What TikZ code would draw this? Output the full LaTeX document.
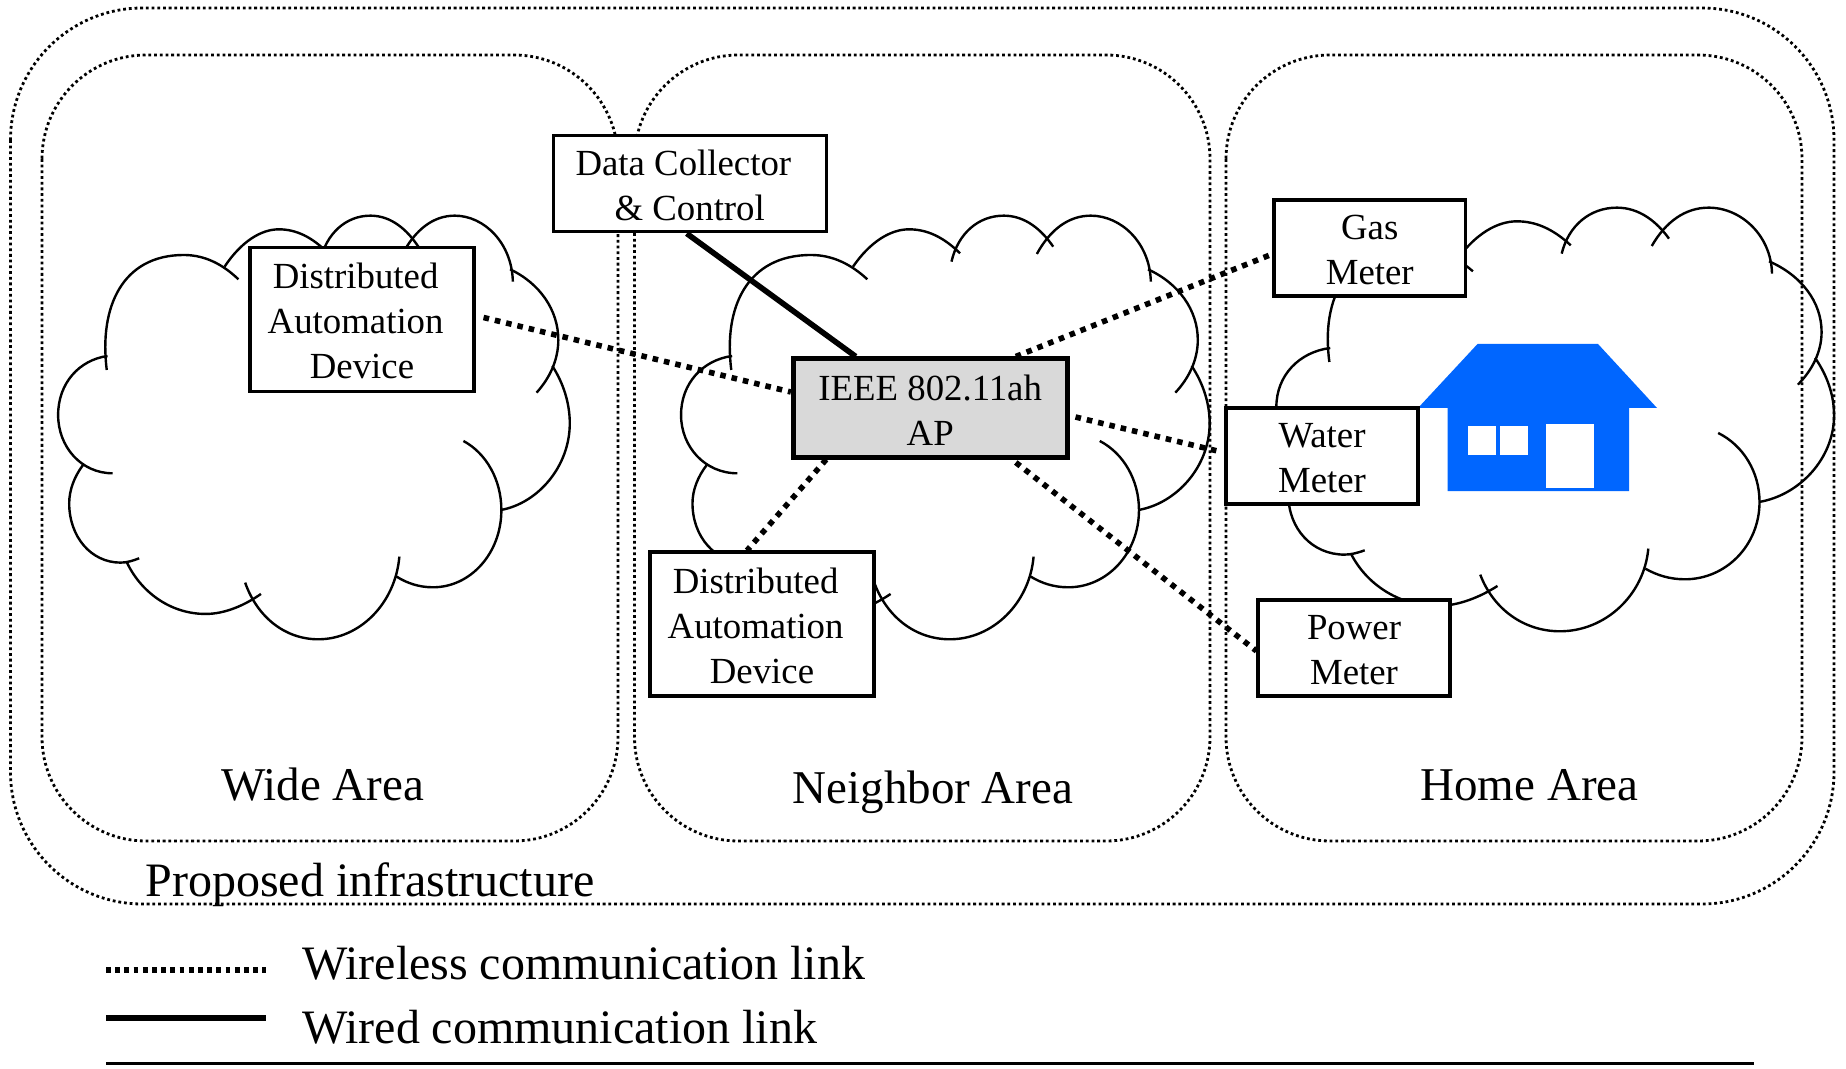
\documentclass[tikz,border=0pt]{standalone}
\usepackage{fontspec}
\setmainfont{Liberation Serif}
\pgfdeclarelayer{under}
\pgfsetlayers{under,main}
\definecolor{houseblue}{HTML}{0066FF}
\definecolor{apgray}{HTML}{D9D9D9}
\newcommand{\Lift}{\rule{0pt}{14.6pt}}
\newcommand{\Nudge}{\rule{6.4pt}{0pt}}
\tikzset{
  framedots/.style={line width=1.4pt,dash pattern=on 1.4pt off 1.45pt,rounded corners=52pt},
  lobe/.style={line width=1.2pt},
  devbox/.style={draw=black,fill=white,line width=1.55pt,inner sep=0pt,align=center,font=\fontsize{18.4}{22.5}\selectfont},
  apbox/.style={devbox,fill=apgray,line width=2.5pt},
  wireless/.style={line width=2.8pt,dash pattern=on 2.8pt off 3pt},
  wired/.style={line width=2.8pt},
  arealabel/.style={inner sep=0pt,font=\fontsize{23.5}{27}\selectfont},
  legendlabel/.style={inner sep=0pt,anchor=west,font=\fontsize{24}{27}\selectfont},
  housefill/.style={fill=houseblue,draw=none},
  holefill/.style={fill=white,draw=none},
}
\newcommand{\CloudLobes}{%
  \draw[lobe] (270,660) .. controls (250,470) and (310,315) .. (465,315) .. controls (520,315) and (565,345) .. (603,388);
  \draw[lobe] (568,350) .. controls (610,275) and (660,238) .. (705,238) .. controls (750,238) and (790,262) .. (830,310);
  \draw[lobe] (809,335) .. controls (825,250) and (875,197) .. (937,197) .. controls (990,197) and (1030,240) .. (1058,290);
  \draw[lobe] (1018,312) .. controls (1050,240) and (1095,197) .. (1150,197) .. controls (1225,197) and (1295,280) .. (1297,395);
  \draw[lobe] (1290,358) .. controls (1365,400) and (1412,480) .. (1412,570) .. controls (1412,630) and (1390,685) .. (1357,728);
  \draw[lobe] (1397,648) .. controls (1425,700) and (1441,760) .. (1441,820) .. controls (1441,950) and (1360,1060) .. (1267,1080);
  \draw[lobe] (1172,873) .. controls (1230,910) and (1268,990) .. (1268,1080) .. controls (1268,1210) and (1190,1312) .. (1095,1312) .. controls (1060,1312) and (1030,1300) .. (1003,1280);
  \draw[lobe] (1010,1220) .. controls (1000,1360) and (910,1468) .. (805,1468) .. controls (720,1468) and (650,1400) .. (620,1298);
  \draw[lobe] (660,1332) .. controls (620,1365) and (570,1392) .. (520,1392) .. controls (430,1392) and (355,1325) .. (320,1235);
  \draw[lobe] (352,1225) .. controls (335,1233) and (320,1238) .. (305,1238) .. controls (230,1238) and (175,1160) .. (175,1060) .. controls (175,1020) and (188,980) .. (210,945);
  \draw[lobe] (285,970) .. controls (205,970) and (147,890) .. (147,795) .. controls (147,700) and (200,630) .. (272,618);
}
\begin{document}
\begin{tikzpicture}[x=0.5pt,y=-0.5pt]
\useasboundingbox (0,0) rectangle (1846,1069);
% house
\fill[housefill] (1418,408) -- (1477.5,344) -- (1598,344) -- (1657,408) -- (1629,408) -- (1629,491) -- (1447.5,491) -- (1447.5,408) -- cycle;
\fill[holefill] (1467.5,426) rectangle (1495.5,454.7);
\fill[holefill] (1499.5,426) rectangle (1528,454.7);
\fill[holefill] (1546,424) rectangle (1594,487.7);
% boxes
\node[devbox,minimum width=136.7pt,minimum height=48.2pt] (data) at (689.75,183.75) {\Lift Data Collector\Nudge\\\& Control};
\node[devbox,minimum width=112pt,minimum height=72.2pt] (dauleft) at (362,319.5) {\Lift Distributed\Nudge\\Automation\Nudge\\Device};
\node[apbox,minimum width=136.8pt,minimum height=49pt] (ap) at (930.2,408) {\Lift IEEE 802.11ah\\AP};
\node[devbox,minimum width=112pt,minimum height=72pt] (daumid) at (762,624) {\Lift Distributed\Nudge\\Automation\Nudge\\Device};
\node[devbox,minimum width=95.7pt,minimum height=48pt] (gas) at (1369.7,248) {\Lift Gas\\Meter};
\node[devbox,minimum width=96pt,minimum height=48pt] (water) at (1322,456) {\Lift Water\\Meter};
\node[devbox,minimum width=96pt,minimum height=48pt] (power) at (1354,648) {\Lift Power\\Meter};
% labels
\node[arealabel] (widelabel) at (322.6,785) {Wide Area};
\node[arealabel] (neighborlabel) at (933,792) {Neighbor Area};
\node[arealabel] (homelabel) at (1529.5,785) {Home Area};
\node[legendlabel] (infra) at (145,884.5) {Proposed infrastructure};
% legend
\coordinate (wlA) at (106,970);
\coordinate (wlB) at (266,970);
\coordinate (wdA) at (106,1018);
\coordinate (wdB) at (266,1018);
\coordinate (rlA) at (106,1063.5);
\coordinate (rlB) at (1754,1063.5);
\draw[wireless,line width=2.6pt,dash pattern=on 2.4pt off 2.2pt] (wlA) -- (wlB);
\draw[wired,line width=2.6pt] (wdA) -- (wdB);
\draw[line width=1.7pt] (rlA) -- (rlB);
\node[legendlabel] (wltext) at (301.6,963.7) {Wireless communication link};
\node[legendlabel] (wdtext) at (301.6,1027.2) {Wired communication link};
\begin{pgfonlayer}{under}
\fill[white] (0,0) rectangle (1846,1069);
% frames
\draw[framedots,rounded corners=66pt] (10.5,8) rectangle (1834,904);
\draw[framedots] (42,55) rectangle (618,841);
\draw[framedots] (634.5,55) rectangle (1210,841);
\draw[framedots] (1226,55) rectangle (1802,841);
% clouds
\begin{scope}[shift={(0,150)},xscale=0.3954,yscale=0.3333]\CloudLobes\end{scope}
\begin{scope}[shift={(621,150)},xscale=0.4085,yscale=0.3333]\CloudLobes\end{scope}
\begin{scope}[shift={(1213,142)},xscale=0.431,yscale=0.3333]\CloudLobes\end{scope}
% connectors
\draw[wired] ([shift={(-3,0)}]data.south) -- ([shift={(-74.5,0)}]ap.north);
\draw[wireless] ([shift={(8,-2)}]dauleft.east) -- ([shift={(0,-16)}]ap.west);
\draw[wireless] ([shift={(85.6,0)}]ap.north) -- ([shift={(0,6)}]gas.west);
\draw[wireless] ([shift={(6,9)}]ap.east) -- ([shift={(-7,-5)}]water.west);
\draw[wireless] ([shift={(85.6,3)}]ap.south) -- ([shift={(0,3)}]power.west);
\draw[wireless] ([shift={(-104,0)}]ap.south) -- ([shift={(-15,0)}]daumid.north);
\end{pgfonlayer}
\end{tikzpicture}
\end{document}
